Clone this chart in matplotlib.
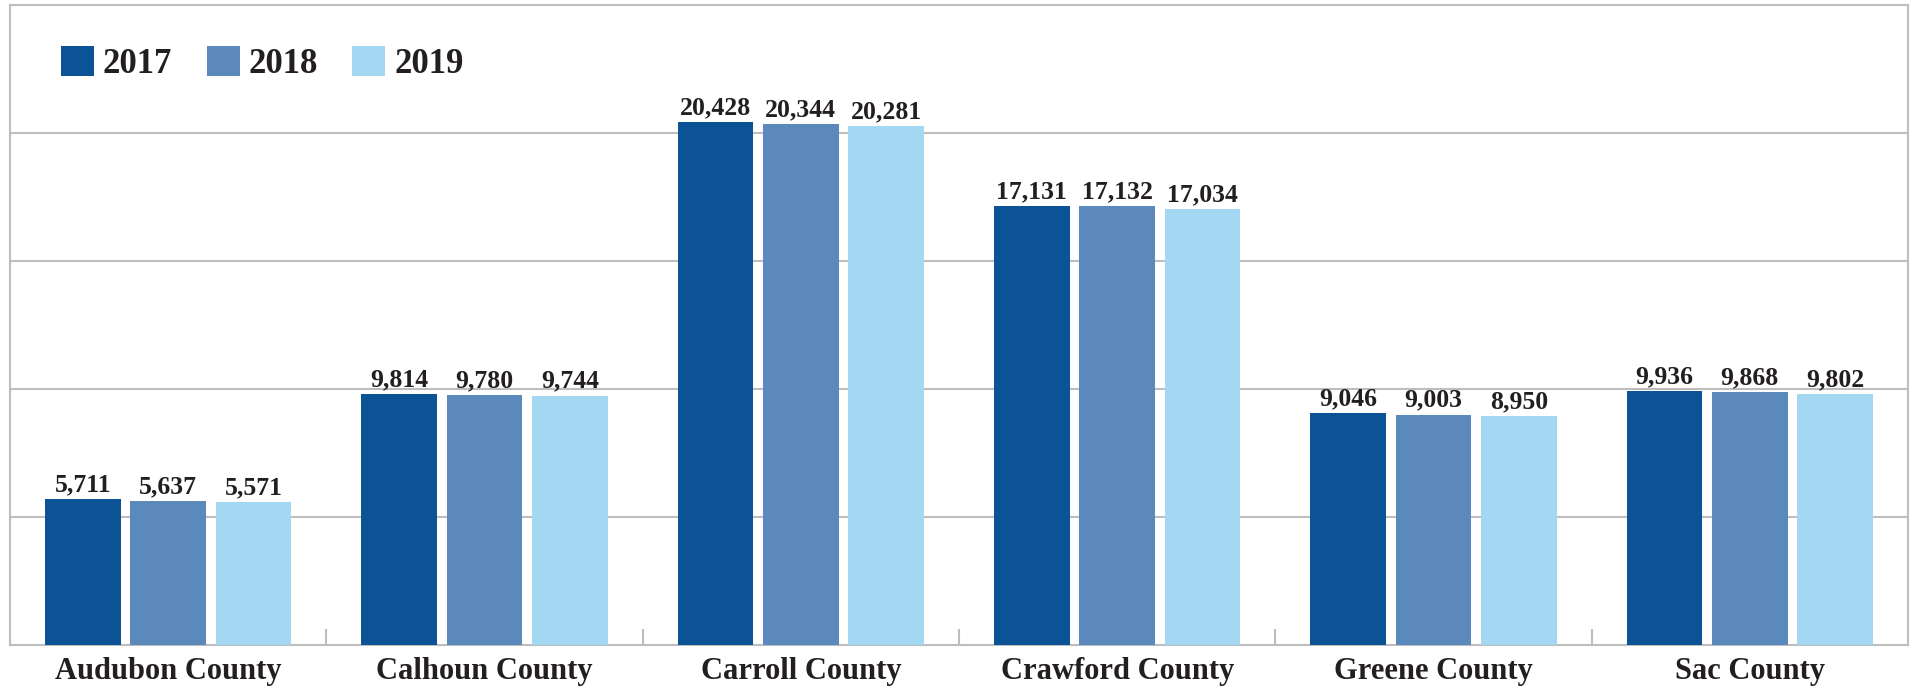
import matplotlib
matplotlib.use("Agg")
import matplotlib.pyplot as plt
import numpy as np

counties = ["Audubon County", "Calhoun County", "Carroll County",
            "Crawford County", "Greene County", "Sac County"]
years = ["2017", "2018", "2019"]
pop_2017 = [5711, 9814, 20428, 17131, 9046, 9936]
pop_2018 = [5637, 9780, 20344, 17132, 9003, 9868]
pop_2019 = [5571, 9744, 20281, 17034, 8950, 9802]

colors = ["#0b5394", "#5b89bb", "#a3d7f2"]
grid_gray = "#bdbdbd"
text_dark = "#231f20"

plt.rcParams["font.family"] = ["Liberation Serif", "DejaVu Serif"]
plt.rcParams["font.weight"] = "bold"

fig = plt.figure(figsize=(19.15, 6.86), dpi=100)
ax = fig.add_axes([10 / 1915, 41 / 686, 1898 / 1915, 640 / 686])

x = np.arange(len(counties))
width = 0.239
step = 0.270
for i, (yr, vals) in enumerate(zip(years, [pop_2017, pop_2018, pop_2019])):
    bars = ax.bar(x + (i - 1) * step, vals, width, color=colors[i], label=yr, zorder=3)
    ax.bar_label(bars, labels=[f"{v:,}" for v in vals], padding=2,
                 fontsize=18.5, fontweight="bold", color=text_dark)

ax.set_xlim(-0.5, len(counties) - 0.5)
ax.set_ylim(0, 25000)
ax.set_yticks([5000, 10000, 15000, 20000])
ax.yaxis.grid(True, color=grid_gray, linewidth=1.5, zorder=0)
ax.tick_params(axis="y", left=False, labelleft=False)

ax.set_xticks(x)
ax.set_xticklabels(counties, fontsize=22, fontweight="bold", color=text_dark)
ax.tick_params(axis="x", which="major", length=0, pad=9)
ax.set_xticks(np.arange(0.5, len(counties) - 1, 1.0), minor=True)
ax.tick_params(axis="x", which="minor", direction="in", length=11.5,
               color=grid_gray, width=1.5)

for side in ["left", "right", "top", "bottom"]:
    ax.spines[side].set_color(grid_gray)
    ax.spines[side].set_linewidth(1.5)

ax.legend(loc="upper left", bbox_to_anchor=(0.0195, 0.958), ncol=3, frameon=False,
          prop={"size": 25, "weight": "bold"}, labelcolor=text_dark,
          handlelength=0.95, handleheight=0.95, handletextpad=0.25,
          columnspacing=1.0, borderaxespad=0)

fig.savefig("out.png", dpi=100)
